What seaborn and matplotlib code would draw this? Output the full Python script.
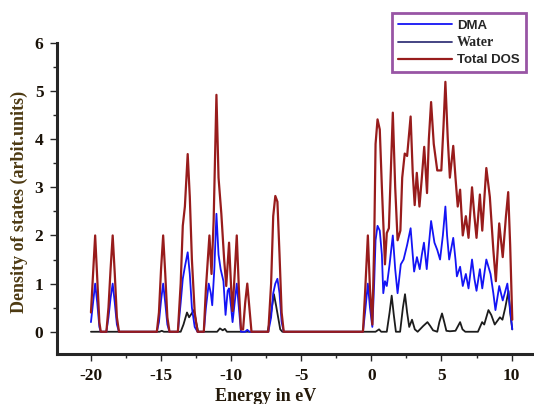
import matplotlib
matplotlib.use("Agg")
import matplotlib.pyplot as plt
import seaborn as sns
from matplotlib.ticker import MultipleLocator

# Energy (eV) / DOS values
total_e = [-20.0, -19.85, -19.7, -19.55, -19.4, -19.3, -18.9, -18.75, -18.6, -18.45, -18.3, -18.15, -18.0,
           -15.3, -15.15, -15.0, -14.85, -14.7, -14.55, -14.4, -13.8, -13.6, -13.45, -13.3, -13.1, -12.95,
           -12.8, -12.6, -12.4, -11.95, -11.8, -11.55, -11.4, -11.25, -11.05, -10.9, -10.7, -10.5, -10.35,
           -10.15, -10.0, -9.9, -9.75, -9.6, -9.45, -9.3, -9.15, -9.0, -8.85, -8.7, -8.55, -7.35, -7.15,
           -7.0, -6.85, -6.7, -6.55, -6.4, -6.25, -0.6, -0.45, -0.25, -0.1, 0.07, 0.2, 0.3, 0.44, 0.6,
           0.75, 0.97, 1.1, 1.25, 1.53, 1.7, 1.87, 2.07, 2.2, 2.38, 2.55, 2.8, 2.95, 3.09, 3.24, 3.43,
           3.6, 3.77, 3.97, 4.1, 4.26, 4.45, 4.7, 4.99, 5.15, 5.28, 5.45, 5.6, 5.84, 6.0, 6.16, 6.33,
           6.52, 6.74, 6.93, 7.18, 7.35, 7.5, 7.74, 7.91, 8.2, 8.45, 8.7, 8.88, 9.12, 9.37, 9.6, 9.76,
           9.9, 10.05]
total_dos = [0.4, 1.2, 2.0, 1.1, 0.2, 0.0, 0.0, 0.5, 1.3, 2.0, 1.2, 0.3, 0.0,
             0.0, 0.4, 1.3, 2.0, 1.2, 0.3, 0.0, 0.0, 1.0, 2.2, 2.6, 3.69, 2.8,
             1.5, 0.4, 0.0, 0.0, 0.9, 2.0, 1.2, 2.3, 4.92, 3.2, 2.45, 1.5, 0.95,
             1.85, 0.9, 0.43, 1.2, 2.0, 0.9, 0.05, 0.05, 0.6, 1.0, 0.5, 0.0, 0.0, 1.0,
             2.4, 2.82, 2.7, 1.6, 0.4, 0.0, 0.0, 0.8, 2.0, 0.9, 0.15, 1.8, 3.9, 4.41, 4.2,
             3.0, 1.4, 2.05, 2.15, 4.55, 3.0, 1.9, 2.1, 3.2, 3.7, 3.65, 4.47, 3.3, 2.63, 3.3, 2.6,
             3.2, 3.84, 2.88, 4.0, 4.77, 3.9, 3.35, 3.35, 4.3, 5.19, 4.0, 3.2, 3.86, 3.2, 2.6, 2.95,
             2.0, 2.4, 1.95, 3.0, 2.4, 1.95, 2.85, 2.1, 3.4, 2.8, 1.7, 1.05, 2.25, 1.55, 2.4, 2.9,
             1.8, 0.25]

dma_e = [-20.0, -19.85, -19.7, -19.55, -19.4, -19.3, -18.9, -18.75, -18.6, -18.45, -18.3, -18.15, -18.0,
         -15.3, -15.15, -15.0, -14.85, -14.7, -14.55, -14.4, -13.8, -13.6, -13.45, -13.3, -13.1, -12.95,
         -12.8, -12.6, -12.4, -11.95, -11.8, -11.6, -11.45, -11.35, -11.2, -11.05, -10.9, -10.75, -10.55,
         -10.4, -10.25, -10.15, -10.0, -9.9, -9.75, -9.6, -9.45, -9.3, -9.0, -8.85, -8.7, -7.35, -7.15,
         -7.0, -6.85, -6.7, -6.55, -6.4, -6.25, -0.6, -0.45, -0.25, -0.1, 0.07, 0.2, 0.3, 0.44, 0.6,
         0.75, 0.85, 0.97, 1.1, 1.3, 1.53, 1.7, 1.87, 2.1, 2.3, 2.55, 2.8, 2.95, 3.05, 3.25, 3.45,
         3.6, 3.75, 3.95, 4.1, 4.26, 4.5, 4.7, 4.9, 5.1, 5.28, 5.4, 5.55, 5.84, 6.0, 6.1, 6.33,
         6.52, 6.74, 6.93, 7.18, 7.35, 7.5, 7.74, 7.91, 8.2, 8.5, 8.7, 8.85, 9.12, 9.37, 9.7, 9.85,
         10.05]
dma_dos = [0.2, 0.6, 1.0, 0.6, 0.1, 0.0, 0.0, 0.3, 0.7, 1.0, 0.6, 0.15, 0.0,
           0.0, 0.2, 0.65, 1.0, 0.6, 0.15, 0.0, 0.0, 0.6, 1.1, 1.35, 1.65, 1.2,
           0.5, 0.1, 0.0, 0.0, 0.5, 1.0, 0.8, 0.55, 1.3, 2.45, 1.6, 1.3, 1.05,
           0.35, 0.85, 0.9, 0.5, 0.2, 0.6, 1.0, 0.5, 0.0, 0.0, 0.04, 0.0, 0.0, 0.3,
           0.8, 1.0, 1.1, 0.8, 0.2, 0.0, 0.0, 0.4, 1.0, 0.5, 0.1, 1.0, 1.9, 2.2, 2.1,
           1.6, 0.8, 1.05, 0.95, 1.4, 2.0, 1.3, 0.8, 1.4, 1.5, 1.8, 2.15, 1.6, 1.25, 1.55, 1.3,
           1.6, 1.85, 1.3, 1.8, 2.3, 1.85, 1.7, 1.5, 2.0, 2.6, 2.0, 1.5, 1.95, 1.5, 1.15, 1.35,
           0.95, 1.2, 0.9, 1.5, 1.1, 0.85, 1.3, 0.9, 1.5, 1.2, 0.8, 0.45, 0.95, 0.65, 1.0, 0.6,
           0.05]

water_e = [-20.0, -15.1, -14.95, -14.8, -13.6, -13.4, -13.15, -13.0, -12.65, -12.5, -12.35, -11.0, -10.8,
           -10.6, -10.45, -10.3, -7.4, -7.2, -6.95, -6.8, -6.65, -6.5, -6.35, 0.3, 0.55, 0.7, 1.1,
           1.3, 1.45, 1.6, 1.75, 2.05, 2.25, 2.4, 2.55, 2.7, 2.9, 3.1, 3.3, 3.7, 4.0, 4.2, 4.4,
           4.7, 4.85, 5.04, 5.2, 5.35, 5.6, 6.0, 6.33, 6.5, 6.7, 7.6, 7.9, 8.05, 8.15, 8.35, 8.55,
           8.8, 9.17, 9.35, 9.55, 9.78, 9.9, 10.05]
water_dos = [0.0, 0.0, 0.02, 0.0, 0.0, 0.15, 0.4, 0.3, 0.45, 0.2, 0.0, 0.0, 0.07,
             0.03, 0.06, 0.0, 0.0, 0.3, 0.78, 0.55, 0.3, 0.05, 0.0, 0.0, 0.05, 0.0, 0.0,
             0.4, 0.75, 0.35, 0.0, 0.0, 0.5, 0.78, 0.4, 0.1, 0.25, 0.05, 0.0, 0.12, 0.2, 0.12, 0.03,
             0.0, 0.2, 0.38, 0.2, 0.02, 0.01, 0.02, 0.2, 0.05, 0.0, 0.0, 0.2, 0.15, 0.25, 0.45, 0.35,
             0.15, 0.3, 0.25, 0.5, 0.85, 0.4, 0.05]

sns.set_style("ticks")
plt.rcParams['font.family'] = ['Liberation Serif', 'DejaVu Serif']
plt.rcParams['axes.unicode_minus'] = False

fig = plt.figure(figsize=(5.34, 4.04), dpi=100)
ax = fig.add_axes([0.1073, 0.124, 0.8927, 0.770])

sns.lineplot(x=water_e, y=water_dos, ax=ax, color='#1c1c1c', lw=1.3, estimator=None, sort=False)
sns.lineplot(x=dma_e, y=dma_dos, ax=ax, color='#1414f5', lw=1.3, estimator=None, sort=False)
sns.lineplot(x=total_e, y=total_dos, ax=ax, color='#981c1c', lw=1.6, estimator=None, sort=False)

ax.set_xlim(-22.4, 11.6)
ax.set_ylim(-0.46, 6.0)
ax.xaxis.set_major_locator(MultipleLocator(5))
ax.xaxis.set_minor_locator(MultipleLocator(2.5))
ax.yaxis.set_major_locator(MultipleLocator(1))
ax.yaxis.set_minor_locator(MultipleLocator(0.5))
ax.spines['top'].set_visible(False)
ax.spines['right'].set_visible(False)
ax.spines['left'].set_linewidth(2.2)
ax.spines['bottom'].set_linewidth(2.2)
ax.tick_params(axis='both', which='major', length=5, width=1, direction='out', labelsize=12.5, pad=5)
ax.tick_params(axis='both', which='minor', length=3, width=1, direction='out')
for lab in ax.get_xticklabels() + ax.get_yticklabels():
    lab.set_fontweight('bold')
    lab.set_color('#1a1208')

ax.set_xlabel("Energy in eV", fontsize=13, fontweight='bold', color='#24190a')
ax.xaxis.set_label_coords(0.438, -0.108)
ax.set_ylabel("Density of states (arbit.units)", fontsize=13, fontweight='bold', color='#4d3a12')
ax.yaxis.set_label_coords(-0.062, 0.49)

lines = ax.get_lines()
handles = [lines[1], lines[0], lines[2]]
leg = fig.legend(handles, ["DMA", "Water", "Total DOS"], loc='upper right',
                 bbox_to_anchor=(0.9845, 0.967), borderaxespad=0, fancybox=False,
                 handlelength=4.1, handletextpad=0.4, labelspacing=0.36, borderpad=0.45,
                 prop={'family': 'Liberation Sans', 'weight': 'bold', 'size': 9.5})
leg.get_frame().set_edgecolor('#7e2a8e')
leg.get_frame().set_linewidth(2)
leg.get_lines()[1].set_color('#35357a')
leg.get_texts()[1].set_fontfamily('Liberation Serif')
leg.get_texts()[1].set_fontsize(10)

fig.savefig("out.png", dpi=100)
